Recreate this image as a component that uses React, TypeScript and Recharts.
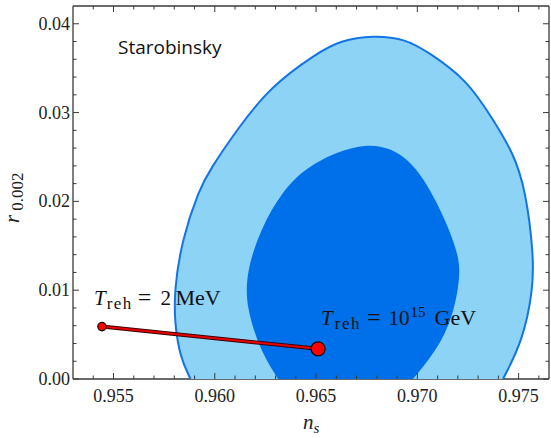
import React from "react";
import { ComposedChart, XAxis, YAxis, Scatter } from "recharts";

// 95% contour (outer)
const outerNs = [0.9588, 0.95828, 0.95802, 0.958, 0.95838, 0.95922, 0.95977, 0.9611, 0.96273, 0.96505, 0.96619, 0.96781, 0.9694, 0.97048, 0.97246, 0.97374, 0.97473, 0.97535, 0.97575, 0.9757, 0.97522, 0.97423];
const outerR = [0, 0.0025, 0.0063, 0.01, 0.0157, 0.0213, 0.0236, 0.0281, 0.0329, 0.0367, 0.0381, 0.0387, 0.0383, 0.0369, 0.0337, 0.0292, 0.0255, 0.0213, 0.0138, 0.01, 0.0044, 0];

// 68% contour (inner)
const innerNs = [0.96312, 0.96223, 0.96155, 0.96155, 0.96223, 0.96337, 0.9647, 0.96752, 0.96964, 0.97105, 0.97198, 0.97215, 0.97177, 0.97098, 0.96979];
const innerR = [0, 0.0033, 0.0081, 0.0119, 0.0168, 0.0213, 0.0243, 0.0270, 0.0252, 0.0197, 0.0145, 0.0119, 0.007, 0.0033, 0];

// reheating temperature endpoints
const reheatNs = [0.95443, 0.9651];
const reheatR = [0.0059, 0.0034];

const xTicks = [0.954, 0.955, 0.956, 0.957, 0.958, 0.959, 0.96, 0.961, 0.962, 0.963, 0.964, 0.965, 0.966, 0.967, 0.968, 0.969, 0.97, 0.971, 0.972, 0.973, 0.974, 0.975, 0.976];
const xMajor = [0.955, 0.96, 0.965, 0.97, 0.975];
const yTicks = [0, 0.002, 0.004, 0.006, 0.008, 0.01, 0.012, 0.014, 0.016, 0.018, 0.02, 0.022, 0.024, 0.026, 0.028, 0.03, 0.032, 0.034, 0.036, 0.038, 0.04];
const yMajor = [0, 0.01, 0.02, 0.03, 0.04];

const zip = (ns: number[], r: number[]) => ns.map((v, i) => ({ ns: v, r: r[i] }));
const outer = zip(outerNs, outerR);
const inner = zip(innerNs, innerR);
const reheat = zip(reheatNs, reheatR);

const AXIS = "#3a3a3a";
const SERIF = "'Liberation Serif', 'DejaVu Serif', serif";

const isMajor = (list: number[], v: number) => list.some((m) => Math.abs(m - v) < 1e-9);

function makeTick(side: "left" | "right" | "top" | "bottom") {
  return (props: any) => {
    const { x, y, payload } = props;
    const v = payload.value;
    const major = isMajor(side === "left" || side === "right" ? yMajor : xMajor, v);
    const len = major ? 6 : 3.5;
    let line;
    if (side === "left") line = <line x1={x} x2={x + len} y1={y} y2={y} />;
    else if (side === "right") line = <line x1={x} x2={x - len} y1={y} y2={y} />;
    else if (side === "top") line = <line x1={x} x2={x} y1={y} y2={y + len} />;
    else line = <line x1={x} x2={x} y1={y} y2={y - len} />;
    return (
      <g>
        <g stroke={AXIS} strokeWidth={1}>{line}</g>
        {major && side === "left" && (
          <text x={x - 3} y={y + 6} textAnchor="end" fontFamily={SERIF} fontSize={18} fill="#222">
            {v.toFixed(2)}
          </text>
        )}
        {major && side === "bottom" && (
          <text x={x} y={y + 23} textAnchor="middle" fontFamily={SERIF} fontSize={18} fill="#222">
            {v.toFixed(3)}
          </text>
        )}
      </g>
    );
  };
}

const hidden = () => <g />;

const lowDot = (props: any) => {
  const { cx, cy } = props;
  return (
    <g>
      <circle cx={cx} cy={cy} r={4.2} fill="#ff0000" stroke="#1a0000" strokeWidth={1.2} />
      <text x={cx - 8} y={cy - 22} fontFamily={SERIF} fontSize={21} fill="#111">
        <tspan fontStyle="italic">T</tspan>
        <tspan dx={1} dy={4} fontSize={17} letterSpacing={1.5}>reh</tspan>
        <tspan dx={5} dy={-4} fontSize={24}>=</tspan>
        <tspan dx={9}>2</tspan>
        <tspan dx={4.5} fontSize={22}>MeV</tspan>
      </text>
    </g>
  );
};

const highDot = (props: any) => {
  const { cx, cy } = props;
  return (
    <g>
      <circle cx={cx} cy={cy} r={7} fill="#ff0000" stroke="#1a0000" strokeWidth={1.2} />
      <text x={cx + 3} y={cy - 24} fontFamily={SERIF} fontSize={21} fill="#111">
        <tspan fontStyle="italic">T</tspan>
        <tspan dx={2} dy={4} fontSize={17} letterSpacing={1.5}>reh</tspan>
        <tspan dx={6} dy={-4} fontSize={24}>=</tspan>
        <tspan dx={8}>10</tspan>
        <tspan dx={1} dy={-8} fontSize={15}>15</tspan>
        <tspan dx={9} dy={8} fontSize={22}>GeV</tspan>
      </text>
    </g>
  );
};

export default function App() {
  return (
    <div style={{ position: "absolute", left: 0, top: 0, width: 551, height: 438, background: "#fff" }}>
      <ComposedChart width={551} height={438} margin={{ top: 5, right: 1, bottom: 29, left: 13 }}>
        <XAxis xAxisId="b" type="number" dataKey="ns" domain={[0.953, 0.9765]} allowDataOverflow ticks={xTicks} interval={0}
          tickSize={0} tickMargin={0} tickLine={false} axisLine={{ stroke: AXIS, strokeWidth: 1.3 }} tick={makeTick("bottom")} height={30} />
        <XAxis xAxisId="t" orientation="top" type="number" dataKey="ns" domain={[0.953, 0.9765]} allowDataOverflow ticks={xTicks} interval={0}
          tickSize={0} tickMargin={0} tickLine={false} axisLine={{ stroke: AXIS, strokeWidth: 1.3 }} tick={makeTick("top")} height={1} />
        <YAxis yAxisId="l" type="number" dataKey="r" domain={[0, 0.042]} allowDataOverflow ticks={yTicks} interval={0}
          tickSize={0} tickMargin={0} tickLine={false} axisLine={{ stroke: AXIS, strokeWidth: 1.3 }} tick={makeTick("left")} width={60} />
        <YAxis yAxisId="rt" orientation="right" type="number" dataKey="r" domain={[0, 0.042]} allowDataOverflow ticks={yTicks} interval={0}
          tickSize={0} tickMargin={0} tickLine={false} axisLine={{ stroke: AXIS, strokeWidth: 1.3 }} tick={makeTick("right")} width={1} />

        <Scatter xAxisId="b" yAxisId="l" data={outer} shape={hidden} isAnimationActive={false}
          line={{ fill: "#8dd3f5", stroke: "#1474e4", strokeWidth: 2 }} lineJointType="basis" />
        <Scatter xAxisId="b" yAxisId="l" data={inner} shape={hidden} isAnimationActive={false}
          line={{ fill: "#0070ea", stroke: "none" }} lineJointType="basis" />
        <Scatter xAxisId="b" yAxisId="l" data={reheat} shape={hidden} isAnimationActive={false}
          line={{ stroke: "#3a0000", strokeWidth: 4, fill: "none" }} />
        <Scatter xAxisId="b" yAxisId="l" data={reheat} shape={hidden} isAnimationActive={false}
          line={{ stroke: "#e80000", strokeWidth: 2, fill: "none" }} />
        <Scatter xAxisId="b" yAxisId="l" data={reheat.slice(0, 1)} shape={lowDot} isAnimationActive={false} />
        <Scatter xAxisId="b" yAxisId="l" data={reheat.slice(1)} shape={highDot} isAnimationActive={false} />
      </ComposedChart>
      <svg width={551} height={438} style={{ position: "absolute", left: 0, top: 0, pointerEvents: "none" }}>
        <text x={118} y={54} fontFamily="'Open Sans', sans-serif" fontSize={19} fill="#111">Starobinsky</text>
        <text x={303} y={429} fontFamily={SERIF} fontSize={21} fill="#222">
          <tspan fontStyle="italic">n</tspan>
          <tspan dy={4} fontSize={15} fontStyle="italic">s</tspan>
        </text>
        <text transform="translate(19,223) rotate(-90)" fontFamily={SERIF} fontSize={21} fill="#222">
          <tspan fontStyle="italic">r</tspan>
          <tspan dx={4} dy={4} fontSize={17}>0.002</tspan>
        </text>
      </svg>
    </div>
  );
}
